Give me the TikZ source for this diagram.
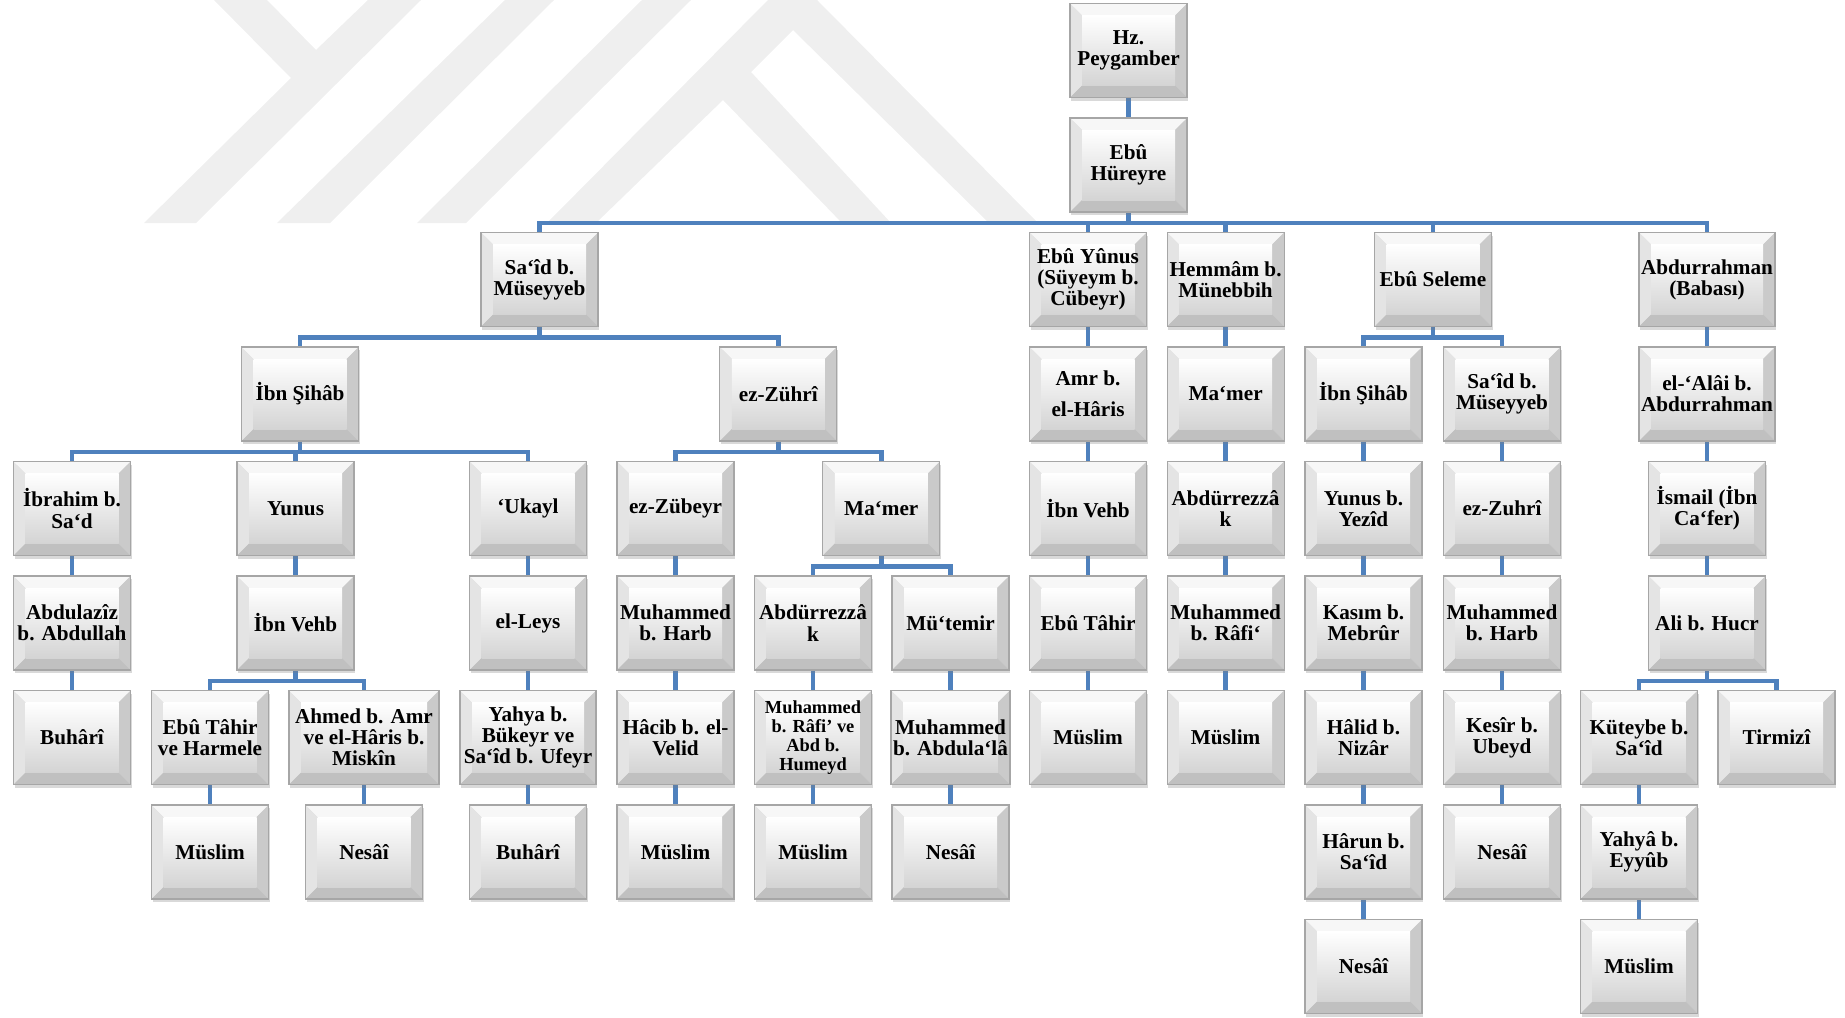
\documentclass[tikz,border=0pt]{standalone}
\usepackage{fontspec}
\setmainfont{Liberation Serif}
\usetikzlibrary{shadows,backgrounds}

\definecolor{linkblue}{HTML}{4F81BD}
\definecolor{wmgray}{HTML}{EFEFEF}
\definecolor{boxline}{HTML}{A6A6A6}
\definecolor{facettop}{HTML}{F7F7F7}
\definecolor{facetleft}{HTML}{E4E4E4}
\definecolor{facetright}{HTML}{CACACA}
\definecolor{facetbottom}{HTML}{C0C0C0}
\definecolor{facetface}{HTML}{D4D4D4}

\begin{document}
\begin{tikzpicture}[
    x=0.5pt, y=-0.5pt,
    box/.style={rectangle, draw=boxline, line width=0.6pt,
        minimum width=58.5pt, minimum height=47pt, inner xsep=1pt, inner ysep=2pt,
        align=center, font=\bfseries\fontsize{10.6}{10.6}\selectfont,
        drop shadow={shadow xshift=0.6pt, shadow yshift=-1.5pt, opacity=0.3},
        path picture={
            \coordinate (pa) at (path picture bounding box.north west);
            \coordinate (pb) at (path picture bounding box.north east);
            \coordinate (pc) at (path picture bounding box.south east);
            \coordinate (pd) at (path picture bounding box.south west);
            \coordinate (qa) at ([shift={(6pt,-6pt)}]pa);
            \coordinate (qb) at ([shift={(-6pt,-6pt)}]pb);
            \coordinate (qc) at ([shift={(-6pt,6pt)}]pc);
            \coordinate (qd) at ([shift={(6pt,6pt)}]pd);
            \fill[facettop] (pa) -- (pb) -- (qb) -- (qa) -- cycle;
            \fill[facetleft] (pa) -- (qa) -- (qd) -- (pd) -- cycle;
            \fill[facetright] (pb) -- (pc) -- (qc) -- (qb) -- cycle;
            \fill[facetbottom] (pd) -- (qd) -- (qc) -- (pc) -- cycle;
            \shade[top color=white, bottom color=facetface] (qa) rectangle (qc);
        }},
    widebox/.style={box, minimum width=68pt},
    smallbox/.style={box, font=\bfseries\fontsize{9.2}{9.6}\selectfont},
    link/.style={draw=linkblue, line width=2.2pt,
        to path={(\tikztostart.south) -- ++(0pt,-5.1pt) -| (\tikztotarget.north)}}
]
    \useasboundingbox (0,0) rectangle (1845,1017);

    % --- watermark in the background ---
    \begin{scope}[on background layer]
        \fill[wmgray] (214,0) -- (267,0) -- (316,50) -- (368,0) -- (421,0)
            -- (196,223) -- (144,223) -- (291,78) -- cycle;
        \fill[wmgray] (505,0) -- (554,0) -- (330,223) -- (277,223) -- cycle;
        \fill[wmgray] (642,0) -- (691,0) -- (466,223) -- (417,223) -- cycle;
        \fill[wmgray] (768,0) -- (817,0) -- (1038,223) -- (989,223) -- (793,30)
            -- (751,72) -- (891,223) -- (842,223) -- (723,100) -- (596,223)
            -- (547,223) -- cycle;
    \end{scope}

    % --- top ---
    \node[box] (hz) at (1128.5,50.5) {Hz.\\Peygamber};
    \node[box] (ebuh) at (1128.5,165) {Ebû\\Hüreyre};

    % --- row 2 ---
    \node[box] (said) at (539.5,279.5) {Sa‘îd b.\\Müseyyeb};
    \node[box] (ebuy) at (1088,279.5) {Ebû Yûnus\\(Süyeym b.\\Cübeyr)};
    \node[box] (hemmam) at (1225.6,279.5) {Hemmâm b.\\Münebbih};
    \node[box] (ebus) at (1433,279.5) {Ebû Seleme};
    \node[widebox] (abdr) at (1707,279.5) {Abdurrahman\\(Babası)};

    % --- row 3 ---
    \node[box] (sihab1) at (300,394) {İbn Şihâb};
    \node[box] (zuhri1) at (778.3,394) {ez-Zührî};
    \node[box] (amr) at (1088,394) {Amr b.\\[5pt]el-Hâris};
    \node[box] (mamer2) at (1225.6,394) {Ma‘mer};
    \node[box] (sihab2) at (1363.5,394) {İbn Şihâb};
    \node[box] (said2) at (1502,394) {Sa‘îd b.\\Müseyyeb};
    \node[widebox] (alai) at (1707,394) {el-‘Alâi b.\\Abdurrahman};

    % --- row 4 ---
    \node[box] (ibrahim) at (72,508.5) {İbrahim b.\\Sa‘d};
    \node[box] (yunus1) at (295.5,508.5) {Yunus};
    \node[box] (ukayl) at (528,508.5) {‘Ukayl};
    \node[box] (zubeyr) at (675.5,508.5) {ez-Zübeyr};
    \node[box] (mamer1) at (881.3,508.5) {Ma‘mer};
    \node[box] (vehb2) at (1088,508.5) {İbn Vehb};
    \node[box] (rezzak2) at (1225.6,508.5) {Abdürrezzâ\\k};
    \node[box] (yezid) at (1363.5,508.5) {Yunus b.\\Yezîd};
    \node[box] (zuhri2) at (1502,508.5) {ez-Zuhrî};
    \node[box] (ismail) at (1707,508.5) {İsmail (İbn\\Ca‘fer)};

    % --- row 5 ---
    \node[box] (abdulaziz) at (72,623) {Abdulazîz\\b. Abdullah};
    \node[box] (vehb1) at (295.5,623) {İbn Vehb};
    \node[box] (leys) at (528,623) {el-Leys};
    \node[box] (harb1) at (675.5,623) {Muhammed\\b. Harb};
    \node[box] (rezzak1) at (813,623) {Abdürrezzâ\\k};
    \node[box] (mutemir) at (950.5,623) {Mü‘temir};
    \node[box] (tahir) at (1088,623) {Ebû Tâhir};
    \node[box] (rafi) at (1225.6,623) {Muhammed\\b. Râfi‘};
    \node[box] (kasim) at (1363.5,623) {Kasım b.\\Mebrûr};
    \node[box] (harb2) at (1502,623) {Muhammed\\b. Harb};
    \node[box] (hucr) at (1707,623) {Ali b. Hucr};

    % --- row 6 ---
    \node[box] (buhari1) at (72,737.5) {Buhârî};
    \node[box] (harmele) at (210,737.5) {Ebû Tâhir\\ve Harmele};
    \node[box, minimum width=75pt] (ahmed) at (364,737.5) {Ahmed b. Amr\\ve el-Hâris b.\\Miskîn};
    \node[widebox] (yahya1) at (528,737.5) {Yahya b.\\Bükeyr ve\\Sa‘îd b. Ufeyr};
    \node[box] (hacib) at (675.5,737.5) {Hâcib b. el-\\Velid};
    \node[smallbox] (rafive) at (813,737.5) {Muhammed\\b. Râfi’ ve\\Abd b.\\Humeyd};
    \node[box] (abdulala) at (950.5,737.5) {Muhammed\\b. Abdula‘lâ};
    \node[box] (muslim4) at (1088,737.5) {Müslim};
    \node[box] (muslim5) at (1225.6,737.5) {Müslim};
    \node[box] (halid) at (1363.5,737.5) {Hâlid b.\\Nizâr};
    \node[box] (kesir) at (1502,737.5) {Kesîr b.\\Ubeyd};
    \node[box] (kuteybe) at (1639,737.5) {Küteybe b.\\Sa‘îd};
    \node[box] (tirmizi) at (1776.5,737.5) {Tirmizî};

    % --- row 7 ---
    \node[box] (muslim1) at (210,852) {Müslim};
    \node[box] (nesai1) at (364,852) {Nesâî};
    \node[box] (buhari2) at (528,852) {Buhârî};
    \node[box] (muslim2) at (675.5,852) {Müslim};
    \node[box] (muslim3) at (813,852) {Müslim};
    \node[box] (nesai2) at (950.5,852) {Nesâî};
    \node[box] (harun) at (1363.5,852) {Hârun b.\\Sa‘îd};
    \node[box] (nesai4) at (1502,852) {Nesâî};
    \node[box] (yahya2) at (1639,852) {Yahyâ b.\\Eyyûb};

    % --- row 8 ---
    \node[box] (nesai3) at (1363.5,966.5) {Nesâî};
    \node[box] (muslim6) at (1639,966.5) {Müslim};

    % --- connectors, behind the boxes ---
    \begin{scope}[on background layer]
        \draw[link] (hz) to (ebuh);
        \draw[link] (ebuh) to (said) (ebuh) to (ebuy) (ebuh) to (hemmam) (ebuh) to (ebus) (ebuh) to (abdr);
        \draw[link] (said) to (sihab1) (said) to (zuhri1);
        \draw[link] (sihab1) to (ibrahim) (sihab1) to (yunus1) (sihab1) to (ukayl);
        \draw[link] (ibrahim) to (abdulaziz) (abdulaziz) to (buhari1);
        \draw[link] (yunus1) to (vehb1) (vehb1) to (harmele) (vehb1) to (ahmed);
        \draw[link] (harmele) to (muslim1) (ahmed) to (nesai1);
        \draw[link] (ukayl) to (leys) (leys) to (yahya1) (yahya1) to (buhari2);
        \draw[link] (zuhri1) to (zubeyr) (zuhri1) to (mamer1);
        \draw[link] (zubeyr) to (harb1) (harb1) to (hacib) (hacib) to (muslim2);
        \draw[link] (mamer1) to (rezzak1) (mamer1) to (mutemir);
        \draw[link] (rezzak1) to (rafive) (rafive) to (muslim3);
        \draw[link] (mutemir) to (abdulala) (abdulala) to (nesai2);
        \draw[link] (ebuy) to (amr) (amr) to (vehb2) (vehb2) to (tahir) (tahir) to (muslim4);
        \draw[link] (hemmam) to (mamer2) (mamer2) to (rezzak2) (rezzak2) to (rafi) (rafi) to (muslim5);
        \draw[link] (ebus) to (sihab2) (ebus) to (said2);
        \draw[link] (sihab2) to (yezid) (yezid) to (kasim) (kasim) to (halid) (halid) to (harun) (harun) to (nesai3);
        \draw[link] (said2) to (zuhri2) (zuhri2) to (harb2) (harb2) to (kesir) (kesir) to (nesai4);
        \draw[link] (abdr) to (alai) (alai) to (ismail) (ismail) to (hucr);
        \draw[link] (hucr) to (kuteybe) (hucr) to (tirmizi);
        \draw[link] (kuteybe) to (yahya2) (yahya2) to (muslim6);
    \end{scope}

\end{tikzpicture}
\end{document}
